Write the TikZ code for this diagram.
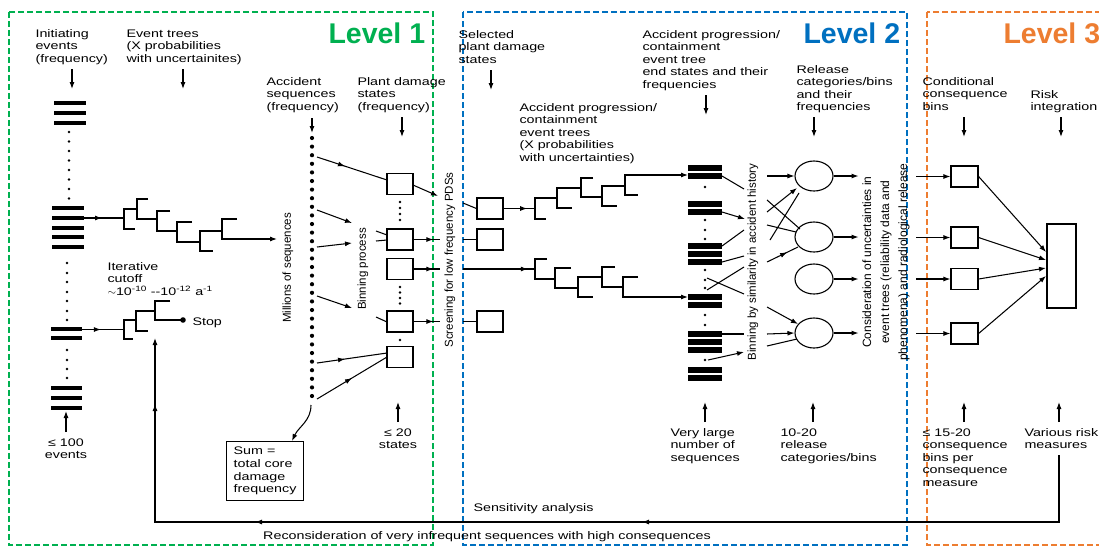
\documentclass[tikz,border=0pt]{standalone}
\usepackage{fontspec}
\setmainfont{Liberation Sans}
\newfontfamily\widefont{Liberation Sans}[FakeStretch=1.3]
\usetikzlibrary{arrows.meta,decorations.markings,shapes.geometric}
\definecolor{lvgreen}{RGB}{0,176,80}
\definecolor{lvblue}{RGB}{0,112,192}
\definecolor{lvorange}{RGB}{237,125,49}
\newcommand{\tfork}[5]{\draw (#4,#2) -- (#1,#2) -- (#1,#3) -- (#5,#3);}
\begin{document}
\begin{tikzpicture}[x=1pt,y=-1pt,line width=1.05pt,
  >={Latex[length=7pt,width=5pt]},
  lbl/.style={font=\widefont\fontsize{11}{12.6}\selectfont, inner sep=0pt, align=left, anchor=base west},
  lblc/.style={lbl, align=center, anchor=base},
  rlbl/.style={font=\fontsize{11.5}{18}\selectfont, inner sep=0pt, rotate=90, align=center},
  lvl/.style={font=\bfseries\fontsize{28.5}{30}\selectfont, inner sep=0pt, anchor=base west},
  lvframe/.style={dash pattern=on 6pt off 3pt, line width=1.6pt},
  pbox/.style={draw, line width=1.2pt, minimum width=26pt, minimum height=21pt, inner sep=0pt},
  relc/.style={draw, ellipse, line width=1.1pt, minimum width=38pt, minimum height=30pt, inner sep=0pt},
  ibar/.style={line width=3.2pt},
  midarr/.style={postaction={decorate},decoration={markings,mark=at position #1 with {\arrow{Latex[length=7pt,width=5pt]}}}}
]
\useasboundingbox (0,0) rectangle (1099,547);
\fill[white] (0,0) rectangle (1099,547);

% frames
\draw[lvframe, lvgreen] (9,12) rectangle (433,545);
\draw[lvframe, lvblue] (463,12) rectangle (907,545);
\draw[lvframe, lvorange] (927,12) rectangle (1120,545);
\node[lvl, text=lvgreen] (lv1) at (328,43.5) {Level 1};
\node[lvl, text=lvblue] (lv2) at (803,43.5) {Level 2};
\node[lvl, text=lvorange] (lv3) at (1003,43.5) {Level 3};

% top labels (anchor = baseline of last line)
\node[lbl] (tIE) at (35,62.2) {Initiating\\events\\(frequency)};
\node[lbl] (tET) at (126,62.2) {Event trees\\(X probabilities\\with uncertainites)};
\node[lbl] (tAS) at (266,110.2) {Accident\\sequences\\(frequency)};
\node[lbl] (tPD) at (357,110.2) {Plant damage\\states\\(frequency)};
\node[lbl] (tSP) at (458,63.2) {Selected\\plant damage\\states};
\node[lbl] (tAP) at (519,161.4) {Accident progression/\\containment\\event trees\\(X probabilities\\with uncertainties)};
\node[lbl] (tAE) at (642,88.4) {Accident progression/\\containment\\event tree\\end states and their\\frequencies};
\node[lbl] (tRC) at (796,110.8) {Release\\categories/bins\\and their\\frequencies};
\node[lbl] (tCC) at (922,110.2) {Conditional\\consequence\\bins};
\node[lbl] (tRI) at (1030,110.6) {Risk\\integration};

% top arrows
\draw[->] (72,69) -- (72,89);
\draw[->] (183,69) -- (183,89);
\draw[->] (312,118) -- (312,133);
\draw[->] (402,117) -- (402,137);
\draw[->] (491,70) -- (491,90);
\draw[->] (706,95) -- (706,115);
\draw[->] (814,117) -- (814,137);
\draw[->] (964,117) -- (964,137);
\draw[->] (1061,117) -- (1061,137);

% initiating events bars and dots
\foreach \y in {103,113,123} \draw[ibar] (54,\y) -- (86,\y);
\foreach \y in {208,218,228,237,247} \draw[ibar] (52,\y) -- (84,\y);
\foreach \y in {329,338} \draw[ibar] (51,\y) -- (82,\y);
\foreach \y in {388,398,408} \draw[ibar] (51,\y) -- (82,\y);
\foreach \y in {132,141.5,151,160.5,170,179.5,189,198.5} \fill (69,\y) circle[radius=1.4pt];
\foreach \y in {263,273,282,292,301,311,320} \fill (67,\y) circle[radius=1.4pt];
\foreach \y in {350,360,369,378} \fill (67,\y) circle[radius=1.4pt];
\draw[->] (66,432) -- (66,411);
\node[lblc] (t100) at (66,458.6) {≤ 100\\events};

% event tree 1
\draw[midarr=0.45] (84,218) -- (124,218);
\tfork{124}{209}{229}{137}{135}
\tfork{137}{199}{219}{148}{157}
\tfork{157}{211}{231}{170}{177}
\tfork{177}{222}{242}{192}{200}
\tfork{200}{231}{251}{222}{213}
\tfork{222}{219}{239}{237}{247}
\draw[->] (247,239) -- (277,239);

% stop tree
\draw[midarr=0.45] (82,329.5) -- (124,329.5);
\tfork{124}{320}{339}{136}{133}
\tfork{136}{311}{331}{155}{148}
\tfork{155}{301}{320}{170}{182}
\fill (183,320) circle[radius=2.8pt];
\node[lbl] (tStop) at (192,325) {Stop};
\node[lbl] (tIC) at (107,295.2) {Iterative\\cutoff\\$\sim$10\textsuperscript{-10} --10\textsuperscript{-12} a\textsuperscript{-1}};

% accident sequences dots
\foreach \i in {0,...,30} \fill (312,138+8.6*\i) circle[radius=2.1pt];
\node[rlbl] (tMS) at (288,268) {Millions of sequences};
\node[rlbl] (tBP) at (363,269) {Binning process};
\node[rlbl] (tScr) at (450,260) {Screening for low frequency PDSs};

% plant damage boxes
\node[pbox] (pA) at (400,184) {};
\node[pbox] (pB) at (400,239.5) {};
\node[pbox] (pC) at (400,269) {};
\node[pbox] (pD) at (400,321.5) {};
\node[pbox] (pE) at (400,357) {};
\foreach \y in {202,208,214,220,287,292.5,298,303.5,340} \fill (400,\y) circle[radius=1.3pt];

\draw[midarr=0.4] (317,157) -- (387,180);
\draw[->] (413,185) -- (438,196);
\draw[->] (317,210) -- (352,223);
\draw[->] (317,247) -- (352,243);
\draw[->] (317,296) -- (352,308);
\draw[midarr=0.4] (317,363) -- (387,353);
\draw[midarr=0.5] (317,399) -- (387,357);
\draw (376,231) -- (387,235);
\draw (376,241) -- (387,240);
\draw (376,317) -- (387,322);
\draw[midarr=0.75] (pB.east) -- (440,239.5);
\draw[midarr=0.75] (pC.east) -- (440,269);
\draw[midarr=0.75] (pD.east) -- (440,321.5);
\draw[->] (398,422) -- (398,402);
\node[lblc] (t20) at (398,448.6) {≤ 20\\states};

% sum box
\node[draw, line width=1.1pt, minimum width=77pt, minimum height=59pt, inner sep=0pt,
  font=\widefont\fontsize{11}{12.6}\selectfont, align=left, anchor=north west] (sum) at (226,441) {Sum =\\total core\\damage\\frequency};
\draw[->] (311,405) to[out=-90,in=65] (292,441);

% level 2 selected boxes
\node[pbox] (sF) at (490,208.5) {};
\node[pbox] (sG) at (490,239.5) {};
\node[pbox] (sH) at (490,321.5) {};
\draw (463,203) -- (sF.west);
\draw (463,239.5) -- (sG.west);
\draw (463,321.5) -- (sH.west);
\draw[midarr=0.75] (sF.east) -- (535,208.5);
\draw[midarr=0.9] (463,269) -- (535,269);

% upper L2 tree
\tfork{535}{198}{219}{557}{546}
\tfork{557}{188}{208}{581}{572}
\tfork{581}{178}{197}{593}{602}
\tfork{602}{186}{206}{625}{617}
\tfork{625}{175}{195}{648}{638}
\draw[->] (648,175) -- (688,175);
% lower L2 tree
\tfork{535}{259}{279}{547}{555}
\tfork{555}{268}{288}{571}{578}
\tfork{578}{277}{297}{602}{593}
\tfork{602}{267}{287}{615}{623}
\tfork{623}{277}{297}{638}{660}
\draw[->] (660,297) -- (688,297);

% sequence bars
\foreach \y in {168,176,204,212,246,254,262,297,305,334,342,350,370,378}
  \fill (688,\y-2.6) rectangle (722,\y+2.6);
\foreach \y in {187,220,230,239,270,280,288,315,325,360} \fill (705,\y) circle[radius=1.4pt];
\draw[->] (705,422) -- (705,402);
\node[lbl] (tVL) at (670,461.2) {Very large\\number of\\sequences};

\draw (722,176) -- (744,189);
\draw[->] (722,212) -- (745,219);
\draw (722,246) -- (744,230);
\draw (722,262) -- (744,256);
\draw (707,278) -- (744,294);
\draw (707,290) -- (744,267);
\draw (722,334) -- (744,334);
\draw[->] (708,360) -- (744,352);
\node[rlbl] (tBS) at (753,262) {Binning by similarity in accident history};

% release circles
\node[relc] (r1) at (814,176) {};
\node[relc] (r2) at (814,237) {};
\node[relc] (r3) at (814,279) {};
\node[relc] (r4) at (814,333) {};
\draw[->] (767,176) -- (r1.west);
\draw[->] (767,212) -- (797,188);
\draw (767,200) -- (800,229);
\draw (770,240) -- (799,193);
\draw (767,225) -- (796,232);
\draw[midarr=0.65] (767,262) -- (798,247);
\draw[->] (767,307) -- (798,324);
\draw[->] (767,334) -- (r4.west);
\draw (767,346) -- (797,339);
\draw[->] (813,422) -- (813,402);
\node[lbl] (t1020) at (780,461.2) {10-20\\release\\categories/bins};

\foreach \n in {r1,r2,r3,r4} \draw[->] (\n.east) -- ++(25,0);
\node[rlbl, font=\fontsize{12}{18}\selectfont] (tCU) at (886,262) {Consideration of uncertainties in\\event trees (reliability data and\\phenomena) and radiological release};

% consequence boxes
\node[pbox, minimum width=27pt] (c1) at (964.5,176.5) {};
\node[pbox, minimum width=27pt] (c2) at (964.5,237.5) {};
\node[pbox, minimum width=27pt] (c3) at (964.5,279) {};
\node[pbox, minimum width=27pt] (c4) at (964.5,333.5) {};
\foreach \n in {c1,c2,c3,c4} \draw[->] (\n.west) ++(-34,0) -- (\n.west);
\node[pbox, minimum width=29pt, minimum height=84pt] (risk) at (1061.5,266) {};
\draw[->] (c1.east) -- (1046,252);
\draw[->] (c2.east) -- (1046,260);
\draw[->] (c3.east) -- (1046,268);
\draw[->] (c4.east) -- (1046,276);
\draw[->] (964,422) -- (964,402);
\draw[->] (1059,422) -- (1059,402);
\node[lbl] (t1520) at (922,486.4) {≤ 15-20\\consequence\\bins per\\consequence\\measure};
\node[lbl] (tVR) at (1024,448.6) {Various risk\\measures};

% feedback loop
\draw[->, postaction={decorate}, decoration={markings,
   mark=at position 484pt with {\arrow{Latex[length=7pt,width=5pt]}},
   mark=at position 871pt with {\arrow{Latex[length=7pt,width=5pt]}},
   mark=at position 1089pt with {\arrow{Latex[length=7pt,width=5pt]}}}]
   (1059,455) -- (1059,522) -- (155,522) -- (155,338);
\node[lbl] (tSA) at (473,511) {Sensitivity analysis};
\node[lblc] (tRe) at (487,539) {Reconsideration of very infrequent sequences with high consequences};
\end{tikzpicture}
\end{document}
